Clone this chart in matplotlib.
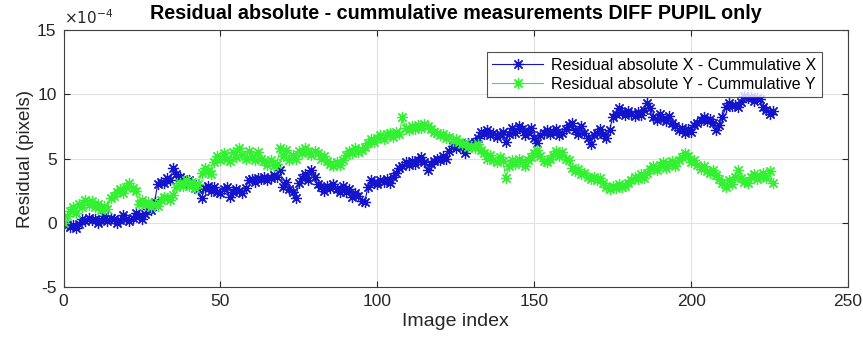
import matplotlib
matplotlib.use("Agg")
import matplotlib.pyplot as plt
import numpy as np

plt.rcParams['font.family'] = ['Liberation Sans', 'DejaVu Sans']
plt.rcParams['axes.unicode_minus'] = False

# Residual values in units of 1e-4 pixels
res_x = [
    0.0, -0.2, -0.3, -0.2, -0.4, -0.1, 0.3, 0.1, 0.4, 0.2,
    0.3, 0.0, 0.2, 0.5, 0.1, 0.4, 0.3, 0.0, 0.2, 0.6,
    0.3, 0.1, 0.4, 0.8, 0.5, 0.3, 0.7, 1.1, 1.0, 1.6,
    3.0, 3.2, 3.1, 3.5, 3.3, 4.3, 3.8, 3.6, 3.4, 3.2,
    3.3, 3.0, 2.7, 2.6, 1.9, 2.7, 2.9, 2.5, 2.8, 2.4,
    2.3, 2.6, 2.8, 2.0, 2.4, 2.6, 2.5, 2.3, 2.7, 3.3,
    3.4, 3.2, 3.5, 3.4, 3.6, 3.3, 3.5, 3.7, 3.6, 4.1,
    2.8, 3.2, 2.6, 2.4, 1.9, 3.1, 3.5, 3.8, 3.3, 4.1,
    3.6, 3.0, 2.8, 2.5, 2.9, 2.7, 3.0, 2.6, 2.4, 2.9,
    2.4, 2.6, 2.0, 2.3, 2.1, 1.7, 1.6, 2.8, 3.3, 3.1,
    3.0, 3.3, 3.2, 3.4, 3.1, 3.6, 3.9, 4.3, 4.4, 4.7,
    4.5, 4.8, 4.6, 4.9, 5.1, 4.7, 4.1, 4.6, 4.8, 5.0,
    4.9, 5.2, 5.0, 5.6, 6.0, 5.8, 6.1, 5.9, 5.4, 6.2,
    6.0, 6.3, 6.6, 7.1, 6.9, 7.2, 6.8, 7.0, 6.7, 6.9,
    7.1, 6.3, 6.9, 7.4, 7.0, 7.5, 7.3, 6.8, 7.1, 7.4,
    6.6, 6.2, 6.8, 7.0, 7.2, 6.9, 7.1, 7.3, 6.8, 7.0,
    7.3, 7.6, 7.8, 7.2, 6.9, 7.5, 7.0, 6.6, 6.1, 6.8,
    7.0, 7.3, 6.9, 6.6, 7.2, 8.2, 8.5, 8.9, 8.6, 8.4,
    8.7, 8.5, 8.3, 8.6, 8.4, 8.8, 9.3, 8.9, 8.2, 8.0,
    8.5, 8.1, 7.9, 8.3, 7.8, 7.5, 7.2, 7.4, 7.0, 7.3,
    7.1, 7.6, 7.8, 8.0, 8.2, 7.9, 8.1, 7.8, 7.2, 7.6,
    8.2, 9.0, 9.3, 9.1, 9.2, 9.0, 9.4, 9.9, 9.7, 9.8,
    9.5, 9.7, 9.6, 9.0, 8.8, 8.5, 8.7,
]

res_y = [
    0.0, 0.5, 0.9, 1.2, 0.8, 1.5, 1.2, 1.8, 1.4, 1.7,
    1.2, 1.5, 1.0, 1.3, 1.1, 1.9, 2.1, 2.4, 2.6, 2.3,
    2.8, 3.1, 2.7, 2.5, 1.5, 1.8, 1.4, 1.6, 1.2, 1.5,
    1.3, 1.8, 2.0, 1.9, 1.8, 2.2, 2.8, 3.1, 2.9, 3.3,
    2.9, 3.2, 2.7, 3.0, 3.9, 4.3, 4.0, 3.8, 4.7, 5.2,
    4.9, 5.4, 5.0, 4.8, 5.5, 5.1, 5.8, 5.3, 5.0, 5.6,
    5.2, 4.9, 5.5, 5.0, 4.8, 4.5, 4.9, 4.4, 4.6, 5.8,
    5.2, 5.7, 4.9, 5.3, 5.0, 5.6, 5.4, 5.8, 5.5, 5.3,
    5.6, 5.4, 5.0, 5.2, 4.8, 4.6, 4.4, 4.7, 4.5, 4.9,
    5.3, 5.6, 5.4, 5.8, 5.5, 5.7, 5.9, 6.2, 6.5, 6.3,
    6.6, 6.8, 6.5, 6.9, 7.0, 6.7, 7.1, 6.9, 8.2, 7.4,
    7.2, 7.5, 7.3, 7.6, 7.4, 7.7, 7.5, 7.3, 7.1, 7.0,
    6.8, 6.9, 6.6, 6.7, 6.4, 6.5, 6.3, 6.1, 6.2, 5.9,
    6.0, 5.8, 6.1, 5.7, 5.4, 5.0, 5.3, 4.9, 4.7, 5.1,
    4.8, 3.5, 4.4, 4.9, 4.6, 5.0, 4.7, 4.4, 4.9, 5.1,
    5.4, 5.7, 5.2, 4.8, 4.7, 5.0, 5.3, 5.6, 5.2, 5.5,
    5.0, 4.9, 4.3, 4.0, 4.2, 3.8, 3.9, 3.6, 3.4, 3.6,
    3.3, 3.5, 3.1, 2.8, 2.6, 2.9, 2.7, 3.0, 2.8, 2.9,
    3.1, 3.3, 3.6, 3.4, 3.8, 3.5, 3.9, 4.2, 4.4, 4.1,
    4.5, 4.7, 4.3, 4.6, 4.8, 4.4, 4.9, 5.1, 5.4, 5.2,
    4.7, 4.9, 4.5, 4.2, 4.4, 4.0, 3.9, 4.1, 3.7, 3.4,
    3.1, 2.8, 3.3, 3.0, 3.6, 4.1, 3.5, 3.2, 3.1, 3.6,
    3.8, 3.4, 3.6, 3.9, 3.5, 4.0, 3.1,
]

image_index = np.arange(len(res_x))

title = "Residual absolute - cummulative measurements DIFF PUPIL only"
label_x_series = "Residual absolute X - Cummulative X"
label_y_series = "Residual absolute Y - Cummulative Y"
x_ticks = [0, 50, 100, 150, 200, 250]
y_ticks = [-5, 0, 5, 10, 15]

fig = plt.figure(figsize=(8.63, 3.45), dpi=100)
ax = fig.add_axes([0.0736, 0.168, 0.909, 0.745])

asterisk = (8, 2, 0)
ax.plot(image_index, res_x, color='#1414cc', marker=asterisk, markersize=8,
        markeredgewidth=0.9, linewidth=0.8, label=label_x_series)
ax.plot(image_index, res_y, color='#33f033', marker=asterisk, markersize=8,
        markeredgewidth=0.9, linewidth=0.8, label=label_y_series)

ax.set_xlim(0, 250)
ax.set_ylim(-5, 15)
ax.set_xticks(x_ticks)
ax.set_yticks(y_ticks)
ax.grid(True, color='#e0e0e0', linewidth=0.8)
ax.set_axisbelow(True)
ax.tick_params(direction='in', length=4, labelsize=12.5, colors='#262626',
               top=True, right=True, pad=5)
for s in ax.spines.values():
    s.set_color('#404040')
    s.set_linewidth(0.8)

ax.set_xlabel("Image index", fontsize=14, color='#262626', labelpad=3)
ax.set_ylabel("Residual (pixels)", fontsize=13.5, color='#262626', labelpad=2)
ax.set_title(title, fontsize=14.2, fontweight='bold', pad=8)
ax.text(0.0, 1.01, r"$\times10^{-4}$", transform=ax.transAxes, fontsize=11,
        color='#262626', va='bottom', ha='left')

leg = ax.legend(loc='upper right', bbox_to_anchor=(0.977, 0.945), fontsize=11.5,
                frameon=True, fancybox=False, edgecolor='#262626',
                borderpad=0.35, handlelength=3.2, labelspacing=0.25,
                handletextpad=0.5)
leg.get_frame().set_linewidth(0.8)

fig.savefig("out.png", dpi=100)
